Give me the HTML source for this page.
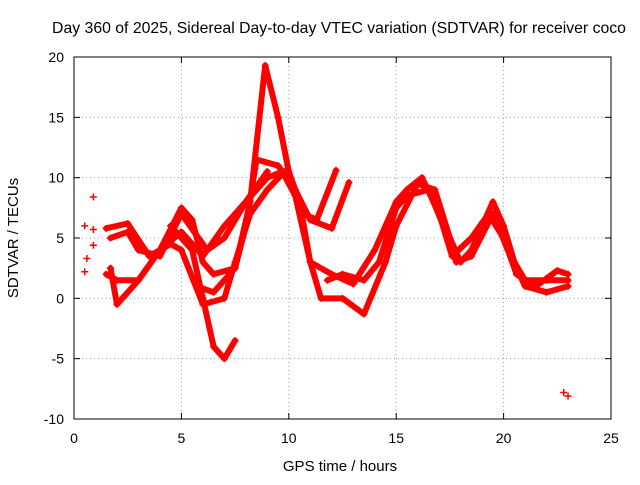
<!DOCTYPE html>
<html><head><meta charset="utf-8"><style>
body{margin:0;background:#fff;}
svg text{font-family:"Liberation Sans",sans-serif;font-size:14px;fill:#000;}
</style></head><body>
<svg id="chart" width="640" height="480" viewBox="0 0 640 480">
<text x="339" y="33" text-anchor="middle" style="font-size:15.8px">Day 360 of 2025, Sidereal Day-to-day VTEC variation (SDTVAR) for receiver coco</text>
<text x="340" y="471" text-anchor="middle" style="font-size:15px">GPS time / hours</text>
<text transform="translate(18,238) rotate(-90)" text-anchor="middle" style="font-size:15px">SDTVAR / TECUs</text>
<g id="grid"></g>
<g id="ticks"></g>
<g id="series"></g>
<rect x="74" y="57" width="537" height="362" fill="none" stroke="#000" stroke-width="1"/>
</svg>
<script>
const xTicks=[0,5,10,15,20,25];
const yTicks=[-10,-5,0,5,10,15,20];
const trackA=[[5.7,1],[6.5,0.5],[7.5,2.5],[8.2,8],[8.9,19.3],[9.5,15],[10,10.5],[10.7,7],[11.3,6.5],[12.2,10.6]];
const trackB=[[4.5,6],[5.5,4],[6,0],[6.5,-4],[7,-5],[7.5,-3.5]];
const trackC=[[1.7,2.5],[2,-0.5],[3,1.5],[4,4],[5,7.5],[5.5,6.5],[6,3],[6.5,2],[7.5,2.5],[8,6],[8.5,11.5],[9.5,11],[10.3,9],[11,6.5],[12,5.8],[12.8,9.6]];
const trackD=[[1.5,5.8],[2.5,6.2],[3.5,3.5],[4.5,4.5],[5,4],[6,-0.5],[7,0],[7.5,3],[8.2,7],[9,9],[9.8,10.5],[10.5,8],[11,3],[11.5,0],[12.5,0],[13.5,-1.3],[14.5,3],[15,6],[16,9.5],[16.8,9],[17.5,5],[18,3],[18.5,4],[19.5,8],[20,6],[20.5,3],[21,1.5],[22,1.5],[23,1.5]];
const trackE=[[1.5,2],[2,1.5],[3,1.5],[4,4],[5,5.5],[6,3.5],[7,6],[8,8],[9,10],[9.7,10.5],[10.3,8.5],[11,3],[12,2],[13,1.2],[14,4],[15,8],[15.5,9],[16.2,10],[17,7],[17.6,3.5],[18.5,5],[19.3,7],[20,5],[20.6,2],[21.5,1],[22.5,2.3],[23,2]];
const trackF=[[1.7,5],[2.5,5.5],[3,4],[4,3.5],[5,7],[5.6,5.5],[6.2,4],[7,5],[8,8],[9,10.5]];
const trackG=[[11.8,1.5],[12.5,2],[13.5,1.5],[14.2,3],[15,7.5],[15.5,8.5],[16.5,9],[17.2,6],[17.8,3],[18.5,3.5],[19.5,7],[20.2,4],[21,1],[22,0.5],[23,1]];
const scatterPts=[[0.5,6],[0.6,3.3],[0.9,8.4],[0.9,4.4],[0.9,5.7],[0.5,2.2],[22.8,-7.8],[23,-8.1]];
const tracks=[trackA,trackB,trackC,trackD,trackE,trackF,trackG];
const X0=74,X1=611,Y0=419,Y1=57;
const sx=t=>X0+(t-0)/(25-0)*(X1-X0);
const sy=v=>Y0-(v+10)/(30)*(Y0-Y1);
const NS="http://www.w3.org/2000/svg";
const grid=document.getElementById('grid'),ticks=document.getElementById('ticks'),ser=document.getElementById('series');
function mk(tag,attrs,parent){const e=document.createElementNS(NS,tag);for(const k in attrs)e.setAttribute(k,attrs[k]);parent.appendChild(e);return e;}
xTicks.forEach(t=>{const x=sx(t);
 if(t>0&&t<25){const g=mk('line',{x1:x,x2:x,y1:Y0,y2:Y1,stroke:'#a0a0a0','stroke-dasharray':'1,3'},grid);}
 const a=mk('line',{x1:x,x2:x,y1:Y0,y2:Y0-6,stroke:'#000'},ticks);
 mk('line',{x1:x,x2:x,y1:Y1,y2:Y1+6,stroke:'#000'},ticks);
 const l=mk('text',{x:x,y:Y0+24,'text-anchor':'middle'},ticks);l.textContent=t;});
yTicks.forEach(v=>{const y=sy(v);
 if(v>-10&&v<20){const g=mk('line',{x1:X0,x2:X1,y1:y,y2:y,stroke:'#a0a0a0','stroke-dasharray':'1,3'},grid);}
 const a=mk('line',{x1:X0,x2:X0+6,y1:y,y2:y,stroke:'#000'},ticks);
 mk('line',{x1:X1,x2:X1-6,y1:y,y2:y,stroke:'#000'},ticks);
 const l=mk('text',{x:X0-10,y:y+5,'text-anchor':'end'},ticks);l.textContent=v;});
function plus(t,v){const x=sx(t),y=sy(v);const p=mk('path',{d:`M${x-3.5},${y}h7M${x},${y-3.5}v7`,stroke:'#f00','stroke-width':1.5},ser);}
tracks.forEach(tr=>{const pl=mk('polyline',{points:tr.map(p=>sx(p[0])+','+sy(p[1])).join(' '),fill:'none',stroke:'#f00','stroke-width':6,'stroke-linejoin':'round','stroke-linecap':'round'},ser);
 
 tr.forEach(p=>plus(p[0],p[1]));});
scatterPts.forEach(p=>plus(p[0],p[1]));
</script>
</body></html>
